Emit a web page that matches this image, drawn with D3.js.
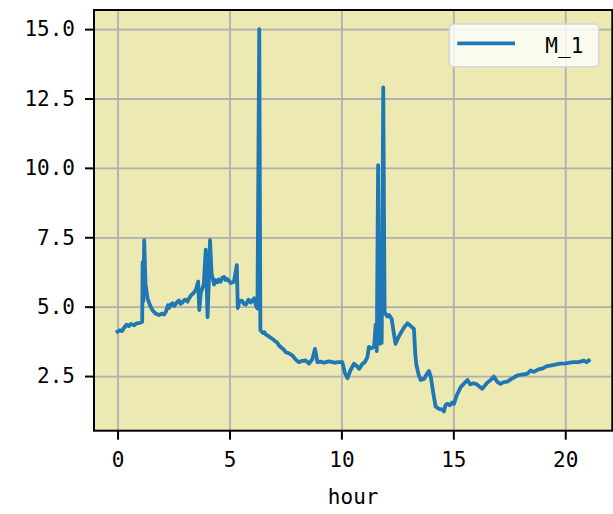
<html>
<head>
	<meta http-equiv="Content-Type" content="text/html; charset=utf-8" />
	<script src="https://cdn.jsdelivr.net/npm/d3@7/dist/d3.min.js" charset="utf-8"></script>

	<style type="text/css">
	body {
	  background-color: white;
	  margin: 0;
	}

	.axis path {
	    display: none;
	}
	.axis line {
	    stroke: black;
	    stroke-width: 2px;
	}
	.axis text {
	    font-family: "DejaVu Sans Mono", "Liberation Mono", monospace;
	    font-size: 21px;
	    fill: black;
	}
	.grid line {
	    stroke: #b0b0b0;
	    stroke-width: 1.8px;
	}
	</style>
</head>
<body>

	<svg width="613" height="514" version="1.1" xmlns="http://www.w3.org/2000/svg">
	</svg>

	<script type="text/javascript">
		// 数据
		var v_Hours  = [0.00 ,0.10 ,0.20 ,0.30 ,0.40 ,0.50 ,0.60 ,0.74 ,0.85 ,1.00 ,1.10 ,1.12 ,1.15 ,1.19 ,1.25 ,1.34 ,1.45 ,1.56 ,1.70 ,1.86
		               ,2.00 ,2.08 ,2.16 ,2.25 ,2.30 ,2.38 ,2.46 ,2.53 ,2.60 ,2.68 ,2.75 ,2.82 ,2.90 ,2.98 ,3.05 ,3.12 ,3.20 ,3.27 ,3.40 ,3.50
		               ,3.60 ,3.65 ,3.72 ,3.85 ,3.94 ,4.00 ,4.02 ,4.08 ,4.13 ,4.20 ,4.31 ,4.38 ,4.45 ,4.52 ,4.60 ,4.68 ,4.76 ,4.83 ,4.90 ,5.06
		               ,5.20 ,5.33 ,5.37 ,5.45 ,5.55 ,5.65 ,5.73 ,5.85 ,5.95 ,6.10 ,6.20 ,6.25 ,6.33 ,6.38 ,6.50 ,6.56 ,6.62 ,6.72 ,6.80 ,6.92
		               ,7.05 ,7.14 ,7.21 ,7.35 ,7.43 ,7.51 ,7.65 ,7.74 ,7.81 ,7.95 ,8.10 ,8.25 ,8.41 ,8.55 ,8.70 ,8.82 ,8.93 ,9.10 ,9.20 ,9.30
		               ,9.45 ,9.60 ,9.72 ,9.85 ,10.04 ,10.16 ,10.27 ,10.40 ,10.56 ,10.70 ,10.79 ,10.94 ,11.05 ,11.16 ,11.23 ,11.35 ,11.46 ,11.50 ,11.53 ,11.58
		               ,11.64 ,11.68 ,11.72 ,11.75 ,11.80 ,11.87 ,11.93 ,12.05 ,12.13 ,12.25 ,12.35 ,12.42 ,12.55 ,12.65 ,12.80 ,12.95 ,13.10 ,13.24 ,13.30 ,13.35
		               ,13.45 ,13.54 ,13.70 ,13.80 ,13.91 ,14.00 ,14.10 ,14.21 ,14.35 ,14.50 ,14.58 ,14.65 ,14.73 ,14.85 ,14.95 ,15.03 ,15.15 ,15.33 ,15.50 ,15.63
		               ,15.75 ,15.90 ,16.05 ,16.29 ,16.50 ,16.70 ,16.81 ,16.95 ,17.11 ,17.25 ,17.41 ,17.60 ,17.86 ,18.05 ,18.30 ,18.45 ,18.60 ,18.80 ,19.00 ,19.15
		               ,19.34 ,19.50 ,19.75 ,20.01 ,20.20 ,20.38 ,20.60 ,20.83 ,20.95 ,21.05];
		var v_Values = [4.10 ,4.15 ,4.12 ,4.25 ,4.35 ,4.30 ,4.38 ,4.33 ,4.40 ,4.42 ,4.45 ,6.60 ,5.20 ,7.40 ,5.80 ,5.30 ,5.05 ,4.87 ,4.75 ,4.70
		               ,4.75 ,4.72 ,4.82 ,5.05 ,4.95 ,5.08 ,5.12 ,5.02 ,5.10 ,5.18 ,5.22 ,5.10 ,5.15 ,5.24 ,5.25 ,5.18 ,5.30 ,5.40 ,5.50 ,5.60
		               ,5.90 ,4.88 ,5.50 ,5.80 ,7.05 ,5.20 ,4.62 ,6.00 ,7.40 ,6.20 ,5.80 ,5.95 ,5.88 ,5.98 ,5.90 ,6.04 ,6.07 ,5.96 ,6.00 ,5.85
		               ,5.90 ,6.50 ,4.95 ,5.20 ,5.22 ,5.10 ,5.08 ,5.25 ,5.15 ,5.30 ,5.00 ,4.93 ,15.00 ,4.15 ,4.05 ,4.08 ,4.00 ,3.95 ,3.90 ,3.84
		               ,3.75 ,3.70 ,3.60 ,3.50 ,3.45 ,3.36 ,3.32 ,3.28 ,3.24 ,3.10 ,3.00 ,3.05 ,3.06 ,2.95 ,3.10 ,3.48 ,3.00 ,3.02 ,2.98 ,3.00
		               ,3.03 ,3.00 ,2.98 ,3.00 ,3.00 ,2.60 ,2.42 ,2.70 ,2.94 ,2.85 ,2.76 ,2.94 ,3.00 ,3.18 ,3.55 ,3.50 ,3.56 ,4.00 ,4.35 ,3.40
		               ,10.10 ,4.20 ,3.66 ,5.60 ,3.70 ,12.90 ,4.80 ,4.65 ,4.70 ,4.55 ,4.00 ,3.66 ,3.90 ,4.05 ,4.25 ,4.40 ,4.30 ,4.20 ,3.30 ,2.90
		               ,2.55 ,2.36 ,2.40 ,2.55 ,2.68 ,2.45 ,1.90 ,1.40 ,1.32 ,1.30 ,1.22 ,1.45 ,1.50 ,1.45 ,1.55 ,1.50 ,1.80 ,2.10 ,2.25 ,2.36
		               ,2.20 ,2.24 ,2.20 ,2.04 ,2.25 ,2.38 ,2.48 ,2.30 ,2.22 ,2.28 ,2.30 ,2.40 ,2.52 ,2.55 ,2.58 ,2.70 ,2.65 ,2.74 ,2.78 ,2.85
		               ,2.88 ,2.90 ,2.95 ,2.96 ,2.98 ,3.00 ,3.00 ,3.06 ,3.00 ,3.06];
		var v_XTicks = [0 ,5 ,10 ,15 ,20];
		var v_YTicks = [2.5 ,5.0 ,7.5 ,10.0 ,12.5 ,15.0];
		var v_Series = "M_1";
		var v_XTitle = "hour";


		function f_Draw()
		{
			var v_SVG    = d3.select("body").select("svg");
			var v_Box    = {left:94 ,right:612.3 ,top:10 ,bottom:430.7};   // 坐标区
			var v_Datas  = v_Hours.map(function(h ,i){ return {x:h ,y:v_Values[i]}; });

			var v_XExt   = d3.extent(v_Hours);
			var v_YExt   = d3.extent(v_Values);
			var v_XPad   = (v_XExt[1] - v_XExt[0]) * 0.05;
			var v_YPad   = (v_YExt[1] - v_YExt[0]) * 0.05;

			var v_xScale = d3.scaleLinear()
			                 .domain([v_XExt[0] - v_XPad ,v_XExt[1] + v_XPad])
			                 .range([v_Box.left ,v_Box.right]);
			var v_yScale = d3.scaleLinear()
			                 .domain([v_YExt[0] - v_YPad ,v_YExt[1] + v_YPad])
			                 .range([v_Box.bottom ,v_Box.top]);

			// 背景
			v_SVG.append("rect")
			     .attr("x" ,v_Box.left)
			     .attr("y" ,v_Box.top)
			     .attr("width" ,v_Box.right - v_Box.left)
			     .attr("height" ,v_Box.bottom - v_Box.top)
			     .attr("fill" ,"#ece9b2");

			// 网格
			v_SVG.append("g")
			     .attr("class" ,"grid")
			     .attr("transform" ,"translate(0," + v_Box.bottom + ")")
			     .call(d3.axisBottom(v_xScale).tickValues(v_XTicks).tickSize(-(v_Box.bottom - v_Box.top)).tickFormat(""))
			     .select(".domain").remove();
			v_SVG.append("g")
			     .attr("class" ,"grid")
			     .attr("transform" ,"translate(" + v_Box.left + ",0)")
			     .call(d3.axisLeft(v_yScale).tickValues(v_YTicks).tickSize(-(v_Box.right - v_Box.left)).tickFormat(""))
			     .select(".domain").remove();

			// 折线
			var v_Line = d3.line()
			               .x(function(d){ return v_xScale(d.x); })
			               .y(function(d){ return v_yScale(d.y); });
			v_SVG.append("path")
			     .datum(v_Datas)
			     .attr("d" ,v_Line)
			     .attr("fill" ,"none")
			     .attr("stroke" ,"#1f77b4")
			     .attr("stroke-width" ,3.8)
			     .attr("stroke-linejoin" ,"round")
			     .attr("stroke-linecap" ,"square");

			// 坐标轴
			v_SVG.append("g")
			     .attr("class" ,"axis")
			     .attr("transform" ,"translate(0," + v_Box.bottom + ")")
			     .call(d3.axisBottom(v_xScale).tickValues(v_XTicks).tickSize(9).tickPadding(12).tickFormat(d3.format("d")));
			v_SVG.append("g")
			     .attr("class" ,"axis")
			     .attr("transform" ,"translate(" + v_Box.left + ",0)")
			     .call(d3.axisLeft(v_yScale).tickValues(v_YTicks).tickSize(9).tickPadding(10).tickFormat(d3.format(".1f")));

			// 边框
			v_SVG.append("rect")
			     .attr("x" ,v_Box.left)
			     .attr("y" ,v_Box.top)
			     .attr("width" ,v_Box.right - v_Box.left)
			     .attr("height" ,v_Box.bottom - v_Box.top)
			     .attr("fill" ,"none")
			     .attr("stroke" ,"black")
			     .attr("stroke-width" ,2);

			// x轴标题
			v_SVG.append("text")
			     .attr("x" ,(v_Box.left + v_Box.right) / 2)
			     .attr("y" ,504)
			     .attr("text-anchor" ,"middle")
			     .attr("font-family" ,"'DejaVu Sans Mono', monospace")
			     .attr("font-size" ,"21px")
			     .text(v_XTitle);

			// 图例
			var v_Legend = v_SVG.append("g").attr("transform" ,"translate(449.3,24)");
			v_Legend.append("rect")
			        .attr("width" ,149.4)
			        .attr("height" ,42.7)
			        .attr("rx" ,4)
			        .attr("fill" ,"white")
			        .attr("fill-opacity" ,0.8)
			        .attr("stroke" ,"#d6d6d6")
			        .attr("stroke-width" ,1.6);
			v_Legend.append("line")
			        .attr("x1" ,8)
			        .attr("x2" ,65.7)
			        .attr("y1" ,19.3)
			        .attr("y2" ,19.3)
			        .attr("stroke" ,"#1f77b4")
			        .attr("stroke-width" ,3.8);
			v_Legend.append("text")
			        .attr("x" ,134)
			        .attr("y" ,28.5)
			        .attr("text-anchor" ,"end")
			        .attr("font-family" ,"'DejaVu Sans Mono', monospace")
			        .attr("font-size" ,"21px")
			        .text(v_Series);
		}


		f_Draw();
	</script>

</body>
</html>
